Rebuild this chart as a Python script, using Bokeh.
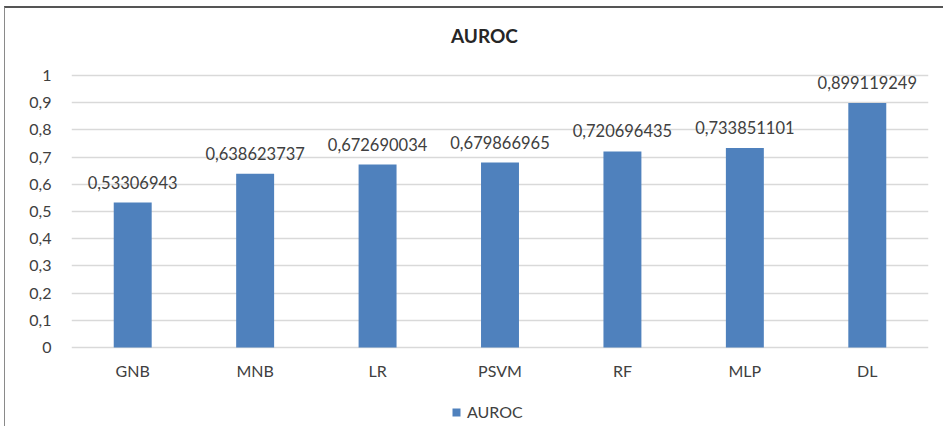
from bokeh.plotting import figure
from bokeh.models import (ColumnDataSource, LabelSet, Label, Legend, LegendItem,
                          FixedTicker, CustomJSTickFormatter, Range1d)
from bokeh.core.properties import value
from bokeh.embed import file_html
from bokeh.resources import INLINE

categories = ["GNB", "MNB", "LR", "PSVM", "RF", "MLP", "DL"]
auroc = [0.53306943, 0.638623737, 0.672690034, 0.679866965, 0.720696435, 0.733851101, 0.899119249]
value_labels = ["0,53306943", "0,638623737", "0,672690034", "0,679866965",
                "0,720696435", "0,733851101", "0,899119249"]
y_ticks = [0, 0.1, 0.2, 0.3, 0.4, 0.5, 0.6, 0.7, 0.8, 0.9, 1.0]
base = [0] * len(categories)

FONT = "Lato"
TXT = "#404040"

source = ColumnDataSource(dict(cat=categories, val=auroc, lab=value_labels, base=base))

# the frame spans the whole chart area, so that title, category names and legend
# are drawn inside it (0..1 is the value axis)
p = figure(x_range=categories, y_range=Range1d(-0.2904, 1.2463), width=939, height=420,
           output_backend="svg", toolbar_location=None, x_axis_location=None, title=None,
           min_border_left=66, min_border_right=16, min_border_top=0, min_border_bottom=2)
p.outline_line_color = None
p.background_fill_color = "white"
p.border_fill_color = "white"
p.styles = {"margin-left": "4px", "margin-top": "6px",
            "border-top": "2px solid #555555", "border-left": "1px solid #8a8a8a"}

bars = p.vbar(x="cat", top="val", width=0.31, source=source,
              fill_color="#4F81BD", line_color=None)

labels = LabelSet(x="cat", y="val", text="lab", source=source, y_offset=14,
                  text_align="center", text_baseline="bottom",
                  text_font=value(FONT), text_font_size=value("16.5px"), text_color=TXT)
p.add_layout(labels)

# category axis labels, placed under the zero line
cat_labels = LabelSet(x="cat", y="base", text="cat", source=source, y_offset=-23,
                      text_align="center", text_baseline="middle",
                      text_font=value(FONT), text_font_size=value("16px"), text_color=TXT)
p.add_layout(cat_labels)

# chart title
title = Label(x=3.373, y=1.147, text="AUROC", text_align="center", text_baseline="middle",
              text_font=FONT, text_font_size="19px", text_font_style="bold",
              text_color="#262626")
p.add_layout(title)

# y axis
p.yaxis.ticker = FixedTicker(ticks=y_ticks)
p.yaxis.formatter = CustomJSTickFormatter(code="""
var s = tick.toFixed(1);
if (s.endsWith('.0')) { s = s.slice(0, -2); }
return s.replace('.', ',');
""")
p.yaxis.axis_line_color = None
p.yaxis.major_tick_line_color = None
p.yaxis.minor_tick_line_color = None
p.yaxis.major_label_standoff = 14
p.yaxis.major_label_text_font = FONT
p.yaxis.major_label_text_font_size = "16px"
p.yaxis.major_label_text_color = TXT

p.xgrid.grid_line_color = None
p.ygrid.grid_line_color = "#D9D9D9"
p.ygrid.grid_line_width = 1.3

legend = Legend(items=[LegendItem(label="AUROC", renderers=[bars])],
                location=(380, 5), orientation="horizontal",
                glyph_width=10, glyph_height=10, padding=0, margin=0,
                label_text_font=FONT, label_text_font_size="16px",
                label_text_color=TXT, label_standoff=6,
                border_line_color=None, background_fill_alpha=0)
p.add_layout(legend, "center")

open("out.html", "w").write(file_html(p, INLINE))
